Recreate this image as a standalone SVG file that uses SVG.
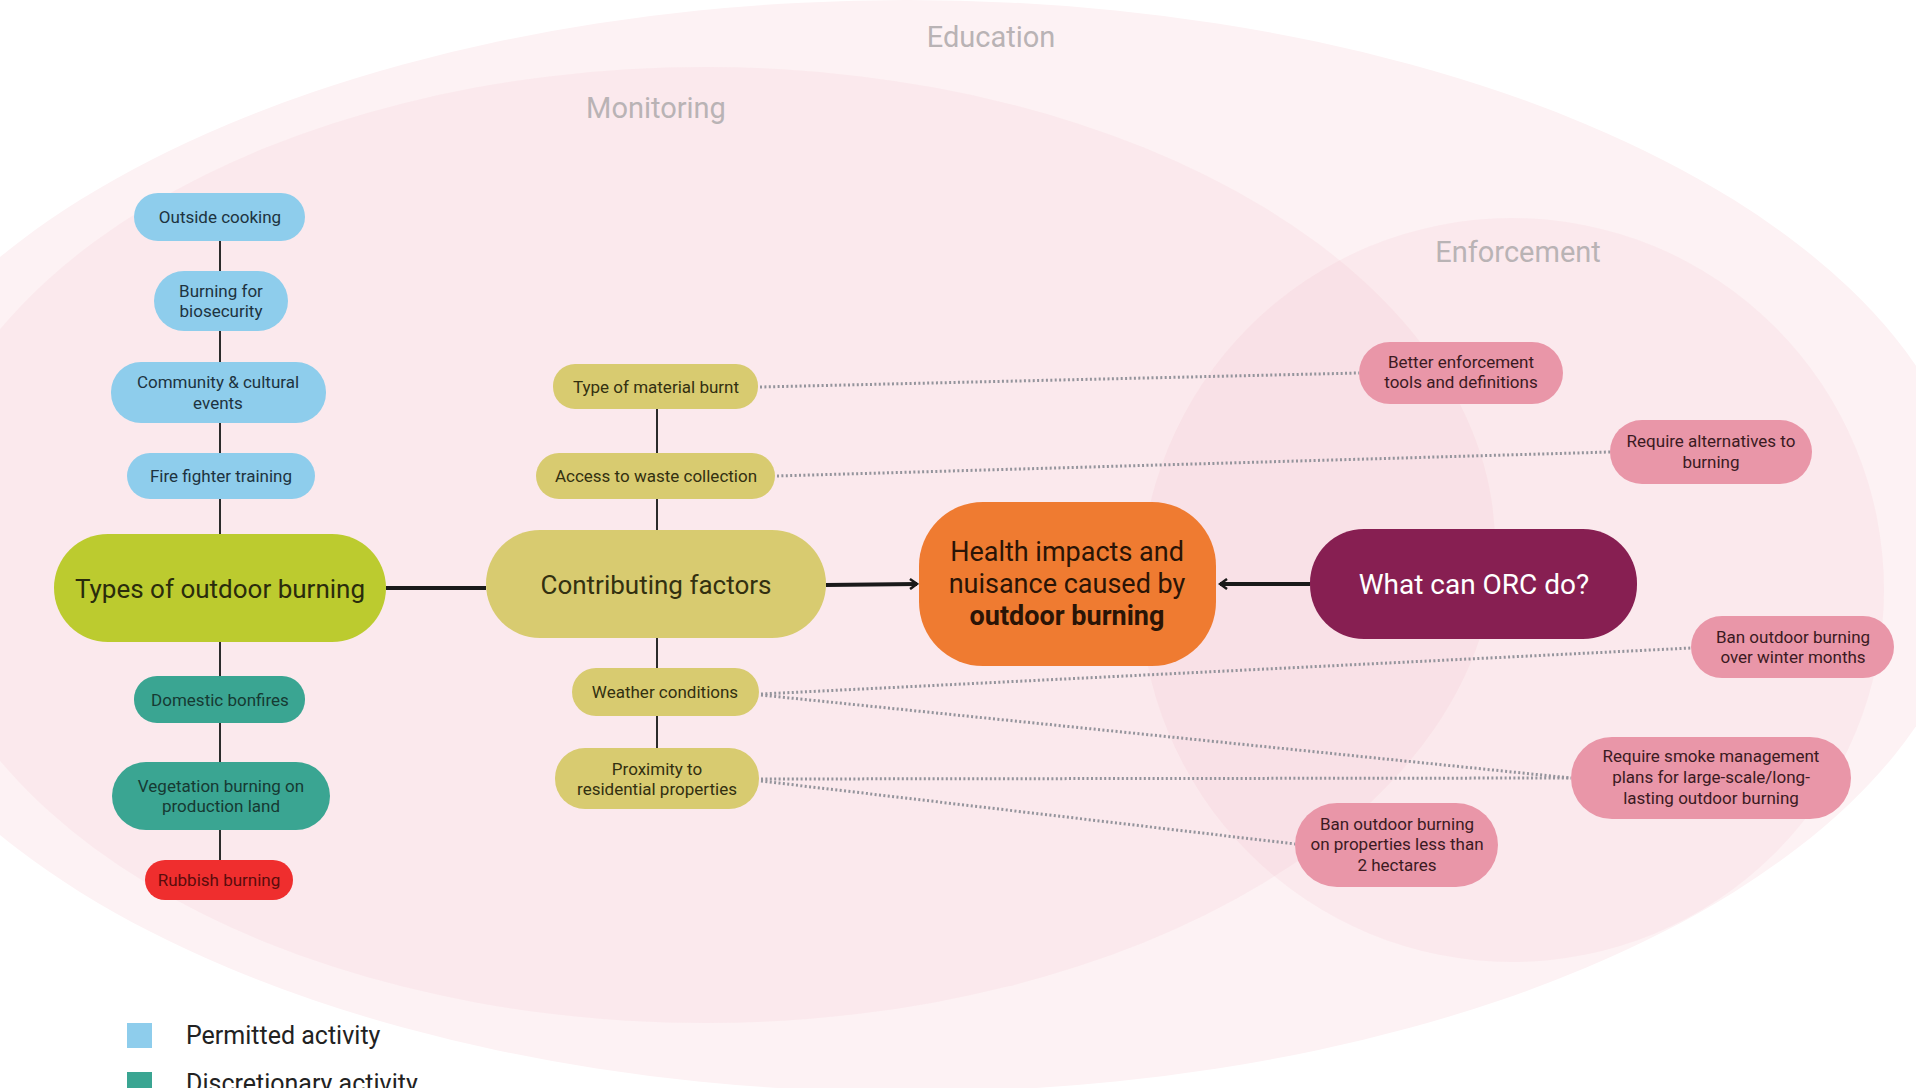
<svg xmlns="http://www.w3.org/2000/svg" width="1916" height="1088" viewBox="0 0 1916 1088">
<defs>
<style>
.t{font-family:Roboto,"Liberation Sans",sans-serif;text-anchor:middle;dominant-baseline:central}
.s{font-size:17px}
.big{font-size:26px}
.zone{font-family:Roboto,"Liberation Sans",sans-serif;font-size:29px;fill:#b9b3b5;text-anchor:middle}
.solid{stroke:#2b2b2b;stroke-width:2;fill:none}
.main{stroke:#1a1a1a;stroke-width:4;fill:none}
.dot{stroke:#94949c;stroke-width:3;stroke-dasharray:2 2.4;fill:none}
.blue{fill:#8ecdec}
.teal{fill:#3aa592}
.khaki{fill:#d8cb70}
.pink{fill:#e996a8}
.bt{fill:#1d3340}
.tt{fill:#163a33}
.kt{fill:#333010}
.pt{fill:#3b1a22}
</style>
<marker id="arr" viewBox="0 0 10 12" refX="8" refY="6" markerWidth="10" markerHeight="12" markerUnits="userSpaceOnUse" orient="auto">
<path d="M1,1 L8,6 L1,11" fill="none" stroke="#1a1a1a" stroke-width="2.5"/>
</marker>
</defs>
<rect width="1916" height="1088" fill="#ffffff"/>
<g id="zones">
<ellipse cx="907" cy="546" rx="1069" ry="546" fill="#fdf2f4"/>
<ellipse cx="705" cy="545" rx="790" ry="478" fill="#eba3b3" fill-opacity="0.11"/>
<circle cx="1512" cy="590" r="372" fill="#eba3b3" fill-opacity="0.11"/>
<text class="zone" x="991" y="47">Education</text>
<text class="zone" x="656" y="118">Monitoring</text>
<text class="zone" x="1518" y="262">Enforcement</text>
</g>
<g id="connectors">
<line class="solid" x1="220" y1="241" x2="220" y2="271"/>
<line class="solid" x1="220" y1="331" x2="220" y2="362"/>
<line class="solid" x1="220" y1="423" x2="220" y2="453"/>
<line class="solid" x1="220" y1="499" x2="220" y2="534"/>
<line class="solid" x1="220" y1="642" x2="220" y2="676"/>
<line class="solid" x1="220" y1="723" x2="220" y2="762"/>
<line class="solid" x1="220" y1="830" x2="220" y2="860"/>
<line class="solid" x1="657" y1="409" x2="657" y2="453"/>
<line class="solid" x1="657" y1="499" x2="657" y2="530"/>
<line class="solid" x1="657" y1="638" x2="657" y2="668"/>
<line class="solid" x1="657" y1="716" x2="657" y2="748"/>
<line class="main" x1="386" y1="588" x2="486" y2="588"/>
<line class="main" x1="826" y1="585" x2="917" y2="584" marker-end="url(#arr)"/>
<line class="main" x1="1310" y1="584" x2="1220" y2="584" marker-end="url(#arr)"/>
<line class="dot" x1="760" y1="387" x2="1359" y2="373"/>
<line class="dot" x1="777" y1="476" x2="1610" y2="452"/>
<line class="dot" x1="761" y1="694" x2="1691" y2="648"/>
<line class="dot" x1="761" y1="695" x2="1571" y2="778"/>
<line class="dot" x1="761" y1="779" x2="1571" y2="778"/>
<line class="dot" x1="761" y1="781" x2="1295" y2="844"/>
</g>
<g id="n-outside"><rect class="blue" x="134" y="193" width="171" height="48" rx="24"/><text class="t s bt" x="220" y="217">Outside cooking</text></g>
<g id="n-biosecurity"><rect class="blue" x="154" y="271" width="134" height="60" rx="30"/><text class="t s bt" x="221" y="291">Burning for</text><text class="t s bt" x="221" y="311">biosecurity</text></g>
<g id="n-community"><rect class="blue" x="111" y="362" width="215" height="61" rx="30"/><text class="t s bt" x="218" y="382">Community &amp; cultural</text><text class="t s bt" x="218" y="403">events</text></g>
<g id="n-firefighter"><rect class="blue" x="127" y="453" width="188" height="46" rx="23"/><text class="t s bt" x="221" y="476">Fire fighter training</text></g>
<g id="n-types"><rect x="54" y="534" width="332" height="108" rx="54" fill="#bccb2f"/><text class="t big" x="220" y="589" fill="#2a2c0c">Types of outdoor burning</text></g>
<g id="n-bonfires"><rect class="teal" x="134" y="676" width="171" height="47" rx="23"/><text class="t s tt" x="220" y="700">Domestic bonfires</text></g>
<g id="n-vegetation"><rect class="teal" x="112" y="762" width="218" height="68" rx="34"/><text class="t s tt" x="221" y="786">Vegetation burning on</text><text class="t s tt" x="221" y="806">production land</text></g>
<g id="n-rubbish"><rect x="145" y="860" width="148" height="40" rx="20" fill="#ef2e2e"/><text class="t s" x="219" y="880" fill="#5a0c0c">Rubbish burning</text></g>
<g id="n-material"><rect class="khaki" x="553" y="364" width="205" height="45" rx="22"/><text class="t s kt" x="656" y="387">Type of material burnt</text></g>
<g id="n-waste"><rect class="khaki" x="536" y="453" width="239" height="46" rx="23"/><text class="t s kt" x="656" y="476">Access to waste collection</text></g>
<g id="n-contributing"><rect class="khaki" x="486" y="530" width="340" height="108" rx="54"/><text class="t big kt" x="656" y="585">Contributing factors</text></g>
<g id="n-weather"><rect class="khaki" x="572" y="668" width="187" height="48" rx="24"/><text class="t s kt" x="665" y="692">Weather conditions</text></g>
<g id="n-proximity"><rect class="khaki" x="555" y="748" width="204" height="61" rx="30"/><text class="t s kt" x="657" y="769">Proximity to</text><text class="t s kt" x="657" y="789">residential properties</text></g>
<g id="n-health"><rect x="919" y="502" width="297" height="164" rx="64" fill="#ef7b31"/><text class="t" x="1067" y="552" font-size="27" fill="#2a1406">Health impacts and</text><text class="t" x="1067" y="584" font-size="27" fill="#2a1406">nuisance caused by</text><text class="t" x="1067" y="616" font-size="27" font-weight="bold" fill="#2a1406">outdoor burning</text></g>
<g id="n-orc"><rect x="1310" y="529" width="327" height="110" rx="54" fill="#871f52"/><text class="t" x="1474" y="584" font-size="28" fill="#ffffff">What can ORC do?</text></g>
<g id="n-better"><rect class="pink" x="1359" y="342" width="204" height="62" rx="31"/><text class="t s pt" x="1461" y="362">Better enforcement</text><text class="t s pt" x="1461" y="382">tools and definitions</text></g>
<g id="n-alternatives"><rect class="pink" x="1610" y="420" width="202" height="64" rx="32"/><text class="t s pt" x="1711" y="441">Require alternatives to</text><text class="t s pt" x="1711" y="462">burning</text></g>
<g id="n-winter"><rect class="pink" x="1691" y="616" width="203" height="62" rx="31"/><text class="t s pt" x="1793" y="637">Ban outdoor burning</text><text class="t s pt" x="1793" y="657">over winter months</text></g>
<g id="n-smoke"><rect class="pink" x="1571" y="737" width="280" height="82" rx="41"/><text class="t s pt" x="1711" y="756">Require smoke management</text><text class="t s pt" x="1711" y="777">plans for large-scale/long-</text><text class="t s pt" x="1711" y="798">lasting outdoor burning</text></g>
<g id="n-hectares"><rect class="pink" x="1295" y="803" width="203" height="84" rx="42"/><text class="t s pt" x="1397" y="824">Ban outdoor burning</text><text class="t s pt" x="1397" y="844">on properties less than</text><text class="t s pt" x="1397" y="865">2 hectares</text></g>
<g id="legend">
<rect x="127" y="1023" width="25" height="25" fill="#8ecdec"/>
<text x="186" y="1044" font-family="Roboto,'Liberation Sans',sans-serif" font-size="25" fill="#222222">Permitted activity</text>
<rect x="127" y="1072" width="25" height="25" fill="#3aa592"/>
<text x="186" y="1092" font-family="Roboto,'Liberation Sans',sans-serif" font-size="25" fill="#222222">Discretionary activity</text>
</g>
</svg>
